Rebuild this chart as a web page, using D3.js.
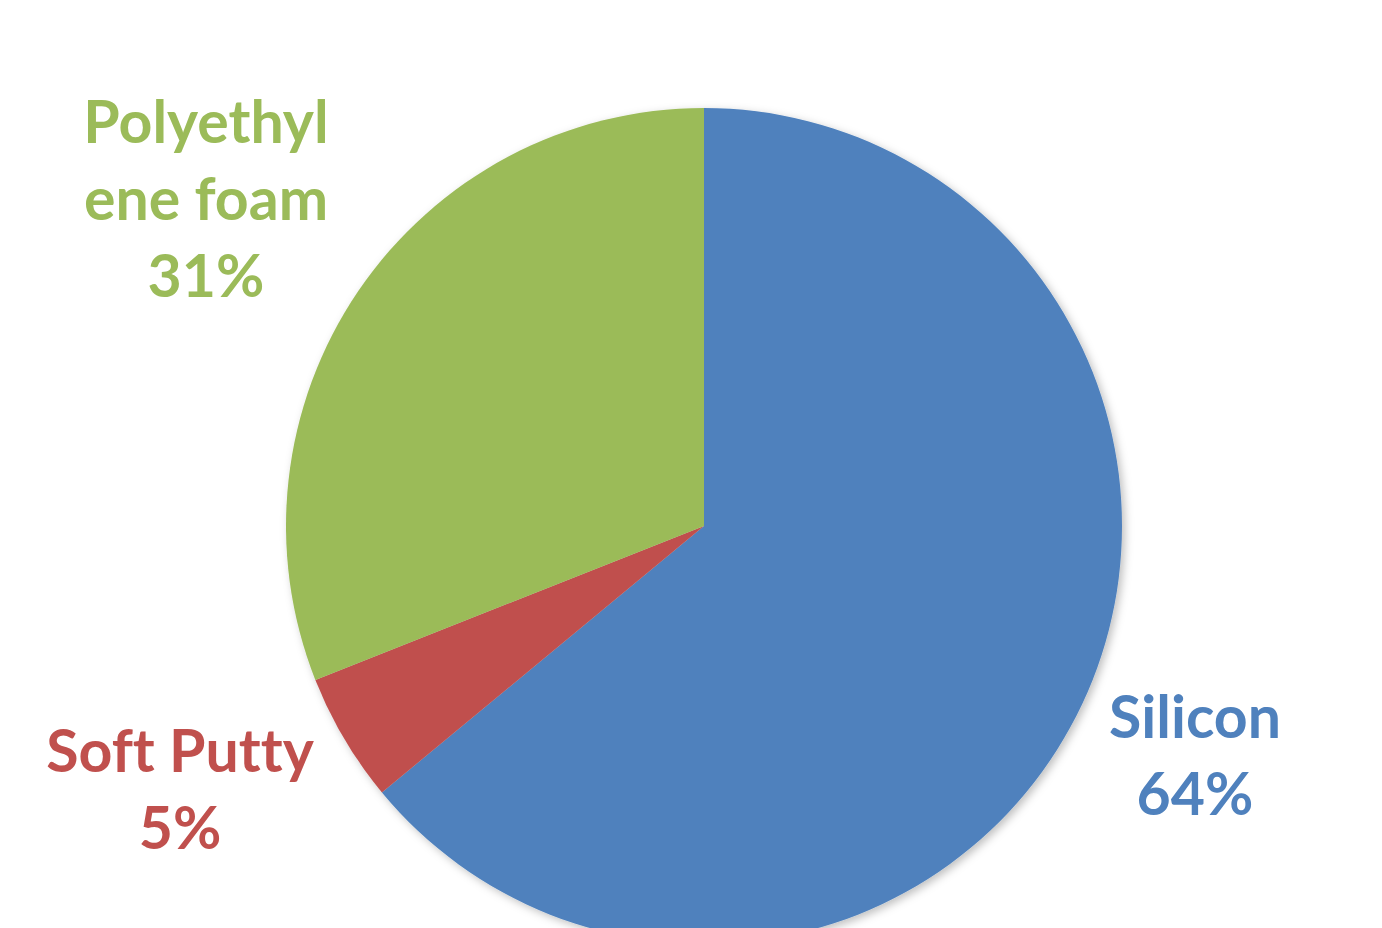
<!DOCTYPE html>
<html>
<head>
<meta charset="utf-8">
<script src="https://cdn.jsdelivr.net/npm/d3@7"></script>
<style>
  body { margin: 0; background: #fff; }
  svg { display: block; }
  .label { font-variant-ligatures: none; font-feature-settings: "liga" 0; }
</style>
</head>
<body>
<div id="chart"></div>
<script>
// Chart data
var categories = ["Silicon", "Soft Putty", "Polyethylene foam"];
var values = [64, 5, 31];
var labelLines = [["Silicon", "64%"], ["Soft Putty", "5%"], ["Polyethyl", "ene foam", "31%"]];
var colors = ["#4F81BD", "#C0504D", "#9BBB59"];

var width = 1382, height = 928;
var cx = 704, cy = 526, radius = 418;

var svg = d3.select("#chart")
    .append("svg")
    .attr("width", width)
    .attr("height", height);

// soft shadow like the office chart
var defs = svg.append("defs");
var filter = defs.append("filter")
    .attr("id", "shadow")
    .attr("x", "-10%").attr("y", "-10%")
    .attr("width", "120%").attr("height", "120%");
filter.append("feDropShadow")
    .attr("dx", 3).attr("dy", 3)
    .attr("stdDeviation", 4)
    .attr("flood-color", "#000")
    .attr("flood-opacity", 0.25);

var data = categories.map(function (c, i) {
    return { name: c, value: values[i], lines: labelLines[i], color: colors[i] };
});

var pie = d3.pie()
    .sort(null)
    .value(function (d) { return d.value; });

var arc = d3.arc()
    .innerRadius(0)
    .outerRadius(radius);

var g = svg.append("g")
    .attr("transform", "translate(" + cx + "," + cy + ")")
    .attr("filter", "url(#shadow)");

g.selectAll(".slice")
    .data(pie(data))
    .enter()
    .append("path")
    .attr("class", "slice")
    .attr("d", arc)
    .style("fill", function (d) { return d.data.color; });

// label anchor positions (centre x, first baseline y)
var labelPos = [[1195, 738], [180, 772], [206, 143]];
var lineHeight = 77;

var labels = svg.selectAll(".label")
    .data(data)
    .enter()
    .append("text")
    .attr("class", "label")
    .attr("text-anchor", "middle")
    .style("font-family", "Lato, 'Open Sans', sans-serif")
    .style("font-weight", "bold")
    .style("font-size", "59px")
    .style("fill", function (d) { return d.color; });

labels.each(function (d, i) {
    var t = d3.select(this);
    d.lines.forEach(function (line, j) {
        t.append("tspan")
            .attr("x", labelPos[i][0])
            .attr("y", labelPos[i][1] + j * lineHeight)
            .text(line);
    });
});
</script>
</body>
</html>
